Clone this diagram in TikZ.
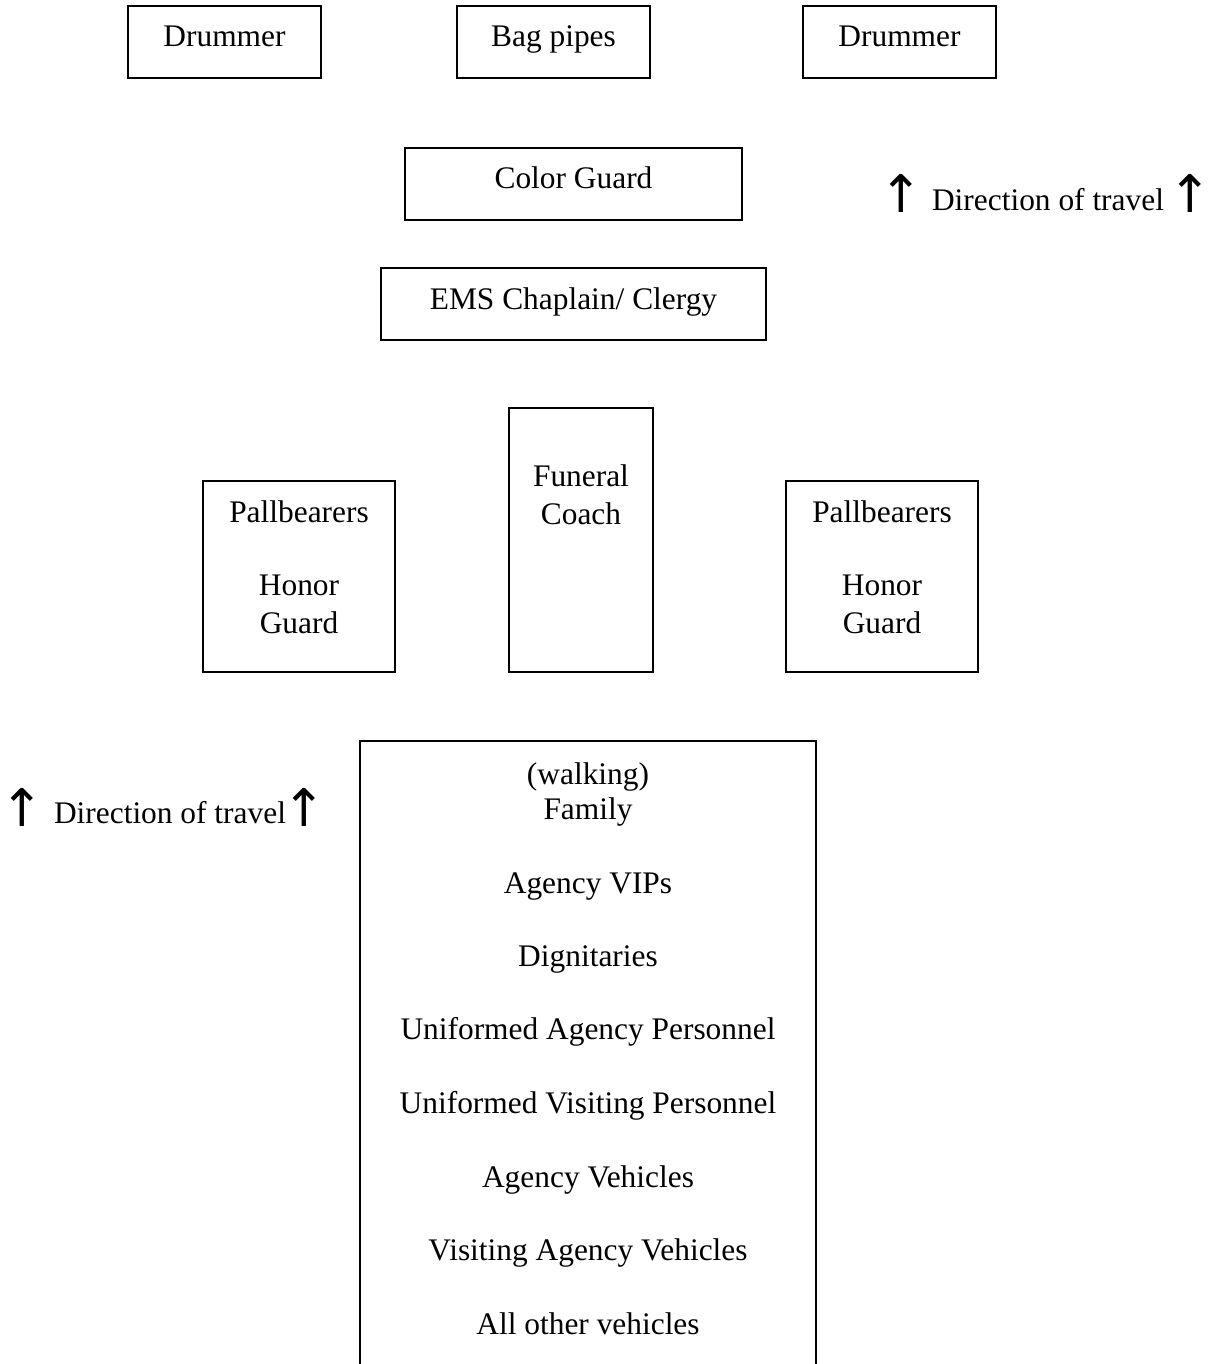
\documentclass[tikz,border=0pt]{standalone}
\usepackage{fontspec}
\setmainfont{Liberation Serif}
\newfontfamily\arrowfont{DejaVu Sans}
\begin{document}
\begin{tikzpicture}[x=1pt,y=-1pt,
  box/.style={draw, line width=1.4pt, rectangle, inner sep=0pt},
  txt/.style={anchor=base, inner sep=0pt, font=\fontsize{31.4}{36}\selectfont},
  uparrow/.style={anchor=base, inner sep=0pt, font=\arrowfont\fontsize{52}{56}\selectfont}]
\useasboundingbox (0,0) rectangle (1215,1364);

% top row
\node[box, minimum width=193pt, minimum height=72pt] (drum1) at (224.5,42) {};
\node[txt] (drum1t) at (224.5,47) {Drummer};
\node[box, minimum width=193pt, minimum height=72pt] (pipes) at (553.5,42) {};
\node[txt] (pipest) at (553.5,47) {Bag pipes};
\node[box, minimum width=193pt, minimum height=72pt] (drum2) at (899.5,42) {};
\node[txt] (drum2t) at (899.5,47) {Drummer};

% colour guard and chaplain
\node[box, minimum width=337pt, minimum height=72pt] (color) at (573.5,184) {};
\node[txt] (colort) at (573.5,189) {Color Guard};
\node[box, minimum width=385pt, minimum height=72pt] (ems) at (573.5,304) {};
\node[txt] (emst) at (573.5,309) {EMS Chaplain/ Clergy};

% direction of travel, right
\node[uparrow] (ar1) at (901,213) {↑};
\node[txt] (dir1) at (1048,211) {Direction of travel};
\node[uparrow] (ar2) at (1190,213) {↑};

% pallbearers and funeral coach
\node[box, minimum width=192pt, minimum height=191pt] (pallL) at (299,576.5) {};
\node[txt] (pallLa) at (299,522) {Pallbearers};
\node[txt] (pallLb) at (299,595) {Honor};
\node[txt] (pallLc) at (299,633) {Guard};
\node[box, minimum width=144pt, minimum height=264pt] (coach) at (581,540) {};
\node[txt] (coacha) at (581,486) {Funeral};
\node[txt] (coachb) at (581,524) {Coach};
\node[box, minimum width=192pt, minimum height=191pt] (pallR) at (882,576.5) {};
\node[txt] (pallRa) at (882,522) {Pallbearers};
\node[txt] (pallRb) at (882,595) {Honor};
\node[txt] (pallRc) at (882,633) {Guard};

% direction of travel, left
\node[uparrow] (ar3) at (22,826) {↑};
\node[txt] (dir2) at (170,823) {Direction of travel};
\node[uparrow] (ar4) at (304,826) {↑};

% procession block (runs off the bottom)
\draw[line width=1.4pt] (360,1370) -- (360,741) -- (816,741) -- (816,1370);
\node[txt] (walk) at (588,784) {(walking)};
\node[txt] (fam) at (588,819) {Family};
\node[txt] (vip) at (588,893) {Agency VIPs};
\node[txt] (dig) at (588,966) {Dignitaries};
\node[txt] (uap) at (588,1039) {Uniformed Agency Personnel};
\node[txt] (uvp) at (588,1113) {Uniformed Visiting Personnel};
\node[txt] (av) at (588,1187) {Agency Vehicles};
\node[txt] (vav) at (588,1260) {Visiting Agency Vehicles};
\node[txt] (aov) at (588,1334) {All other vehicles};
\end{tikzpicture}
\end{document}
